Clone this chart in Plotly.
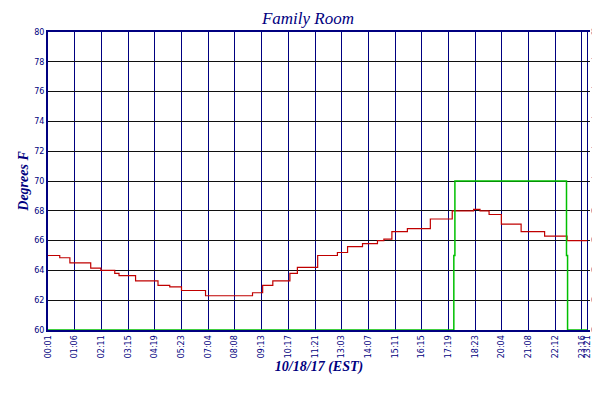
import plotly.graph_objects as go

# x positions are sample index (ticks every 5 samples)
tick_idx = [0, 5, 10, 15, 20, 25, 30, 35, 40, 45, 50, 55, 60, 65, 70, 75, 80, 85, 90, 95, 100, 101]
tick_txt = ["00:01", "01:06", "02:11", "03:15", "04:19", "05:23", "07:04", "08:08", "09:13",
            "10:17", "11:21", "13:03", "14:07", "15:11", "16:15", "17:19", "18:23", "20:04",
            "21:08", "22:12", "23:16", "23:21"]

room_x = [0, 2.2, 4.1, 8.0, 9.9, 12.5, 13.3, 16.4, 20.6, 22.8, 25.0, 29.5, 38.3, 40.2, 42.1,
          45.3, 46.7, 50.5, 54.2, 56.1, 58.9, 61.7, 62.9, 64.4, 67.3, 71.6, 75.7, 79.7, 80.9,
          82.6, 84.9, 84.9, 88.6, 93.0, 97.2, 101]
room_y = [65.0, 64.85, 64.5, 64.15, 64.0, 63.8, 63.65, 63.3, 63.0, 62.9, 62.65, 62.3, 62.5, 63.0,
          63.3, 63.8, 64.2, 65.0, 65.2, 65.6, 65.8, 66.0, 66.1, 66.6, 66.8, 67.45, 68.0, 68.1,
          68.0, 67.75, 67.6, 67.1, 66.6, 66.3, 66.0, 66.0]

setback_x = [0, 76.0, 76.2, 97.1, 97.3, 101]
setback_y = [60, 65, 70, 65, 60, 60]

navy = "#000080"
fig = go.Figure()
fig.add_trace(go.Scatter(x=room_x, y=room_y, mode="lines", name="<i><b>Family Room</b></i>",
                         line=dict(color="#c00000", width=1.2, shape="hv")))
fig.add_trace(go.Scatter(x=setback_x, y=setback_y, mode="lines", name="<i><b>Setback</b></i>",
                         line=dict(color="#00c000", width=1.5, shape="hv")))
fig.add_trace(go.Scatter(x=[0, 101], y=[60, 60], yaxis="y2", mode="lines",
                         showlegend=False, line=dict(width=0), hoverinfo="skip"))

fig.update_layout(
    width=600, height=400,
    margin=dict(l=40, r=18, t=24, b=78, autoexpand=False),
    paper_bgcolor="white", plot_bgcolor="white",
    title=dict(text="<i>Family Room</i>", x=0.5, xanchor="center", y=0.99, yanchor="top",
               font=dict(family="Liberation Serif", size=17, color=navy)),
    xaxis=dict(range=[0, 101.5], tickvals=tick_idx, ticktext=tick_txt, tickangle=-90,
               showgrid=True, gridcolor=navy, gridwidth=1, zeroline=False, automargin=False,
               showline=True, linecolor=navy, linewidth=2, mirror=True, ticks="",
               tickfont=dict(family="DejaVu Sans", size=8, color=navy),
               title=dict(text="<b><i>10/18/17 (EST)</i></b>", standoff=4,
                          font=dict(family="Liberation Serif", size=14, color=navy))),
    yaxis=dict(range=[60, 80], dtick=2, showgrid=True, gridcolor="#101010", gridwidth=1,
               zeroline=False, showline=True, linecolor=navy, linewidth=2, ticks="",
               automargin=False,
               tickfont=dict(family="DejaVu Sans", size=8, color=navy),
               title=dict(text="<b><i>Degrees F</i></b>", standoff=2,
                          font=dict(family="Liberation Serif", size=14, color=navy))),
    yaxis2=dict(range=[60, 80], dtick=2, overlaying="y", side="right", showgrid=False,
                zeroline=False, ticks="", automargin=False,
                tickfont=dict(family="DejaVu Sans", size=8, color=navy)),
    legend=dict(orientation="h", x=0.5, xanchor="center", y=-0.2, yanchor="top",
                font=dict(family="Liberation Serif", size=11, color=navy)),
)

fig.write_html("out.html")
